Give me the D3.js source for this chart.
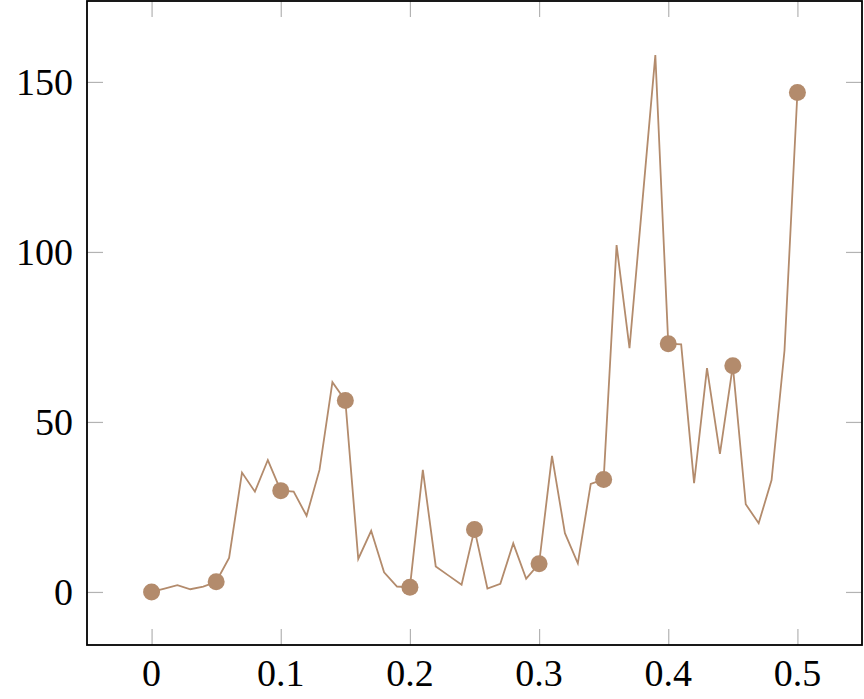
<!DOCTYPE html>
<html>
<head>
<meta charset="utf-8">
<script src="https://cdn.jsdelivr.net/npm/d3@7"></script>
<style>
html,body{margin:0;padding:0;background:#fff;}
svg{display:block;}
</style>
</head>
<body>
<svg id="chart" width="864" height="699"></svg>
<script>
const xValues = [0,0.01,0.02,0.03,0.04,0.05,0.06,0.07,0.08,0.09,0.1,0.11,0.12,0.13,0.14,0.15,0.16,0.17,0.18,0.19,0.2,0.21,0.22,0.23,0.24,0.25,0.26,0.27,0.28,0.29,0.3,0.31,0.32,0.33,0.34,0.35,0.36,0.37,0.38,0.39,0.4,0.41,0.42,0.43,0.44,0.45,0.46,0.47,0.48,0.49,0.5];
const yValues = [0,1,2,0.8,1.6,3,10,35.1,29.5,38.8,29.8,29.5,22.4,35.9,61.7,56.3,9.7,18,5.8,1.6,1.4,35.9,7.5,4.8,2.1,18.4,1,2.4,14.3,3.9,8.3,40,17.3,8.4,31.8,33.1,102,71.7,114.8,157.9,73,72.8,32,65.8,40.6,66.5,25.8,20.2,32.9,71,146.9];
const markerX = [0,0.05,0.1,0.15,0.2,0.25,0.3,0.35,0.4,0.45,0.5];
const xTicks = [0,0.1,0.2,0.3,0.4,0.5];
const yTicks = [0,50,100,150];

const color = "rgb(179,139,108)";
const svg = d3.select("#chart");
const L = 87, R = 862, T = 1, B = 645;
const x = d3.scaleLinear().domain([-0.05,0.55]).range([L,R]);
const y = d3.scaleLinear().domain([-15.6,173.8]).range([B,T]);
const data = xValues.map((v,i)=>({x:v,y:yValues[i]}));
const marks = data.filter(d => markerX.some(m => Math.abs(m-d.x)<1e-9));

const font = "'Liberation Serif','DejaVu Serif',serif";
const fs = 38;
const tickLen = 16;
const tickColor = "#b3b3b3";

const styleTicks = s=>{s.select(".domain").remove();s.selectAll("line").attr("stroke",tickColor).attr("stroke-width",1.2);};
const g = svg.append("g");
g.append("g").attr("transform",`translate(0,${B})`).call(d3.axisTop(x).tickValues(xTicks).tickSize(tickLen).tickFormat("")).call(styleTicks);
g.append("g").attr("transform",`translate(0,${T})`).call(d3.axisBottom(x).tickValues(xTicks).tickSize(tickLen).tickFormat("")).call(styleTicks);
g.append("g").attr("transform",`translate(${L},0)`).call(d3.axisRight(y).tickValues(yTicks).tickSize(tickLen).tickFormat("")).call(styleTicks);
g.append("g").attr("transform",`translate(${R},0)`).call(d3.axisLeft(y).tickValues(yTicks).tickSize(tickLen).tickFormat("")).call(styleTicks);

// tick labels
svg.append("g").selectAll("text").data(xTicks).join("text")
  .attr("x", d=>x(d)).attr("y", 686)
  .attr("text-anchor","middle")
  .attr("font-family",font).attr("font-size",fs)
  .text(d=>d3.format("~g")(d));
svg.append("g").selectAll("text").data(yTicks).join("text")
  .attr("x", 73).attr("y", d=>y(d)+13)
  .attr("text-anchor","end")
  .attr("font-family",font).attr("font-size",fs)
  .text(d=>d);

// line
const line = d3.line().x(d=>x(d.x)).y(d=>y(d.y));
svg.append("path").datum(data)
  .attr("d",line).attr("fill","none").attr("stroke",color)
  .attr("stroke-width",1.8).attr("stroke-linejoin","miter");

// markers
svg.append("g").selectAll("circle").data(marks).join("circle")
  .attr("cx",d=>x(d.x)).attr("cy",d=>y(d.y)).attr("r",8.5)
  .attr("fill",color);

// frame
svg.append("rect").attr("x",L).attr("y",T).attr("width",R-L).attr("height",B-T)
  .attr("fill","none").attr("stroke","#000").attr("stroke-width",1.8);
</script>
</body>
</html>
